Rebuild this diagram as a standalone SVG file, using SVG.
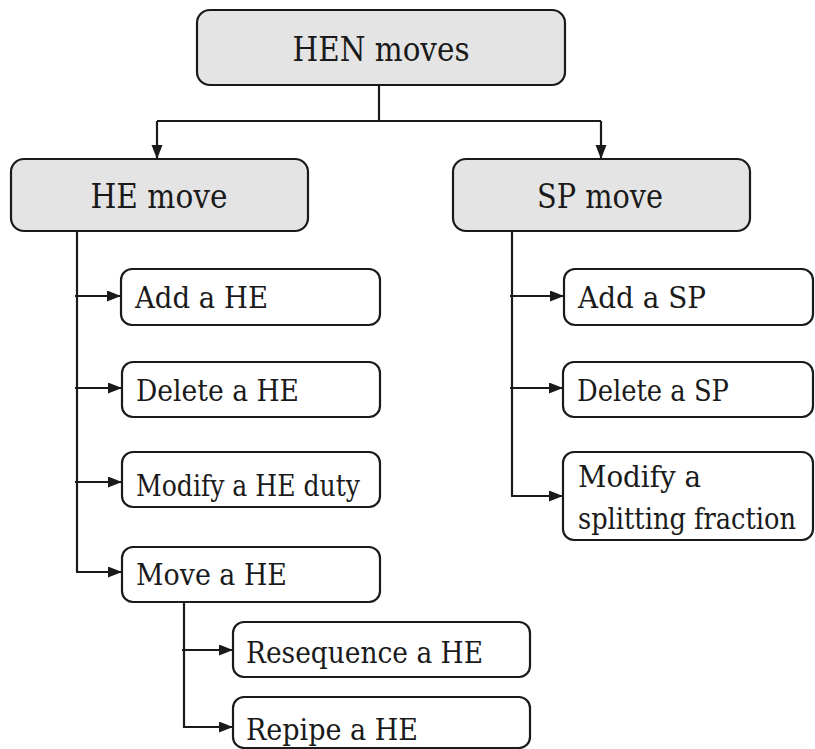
<svg xmlns="http://www.w3.org/2000/svg" width="815" height="749" viewBox="0 0 815 749">
  <style>
    .head { fill: #e4e4e4; stroke: #1a1a1a; stroke-width: 2.2; }
    .leaf { fill: #ffffff; stroke: #1a1a1a; stroke-width: 2.2; }
    text { font-family: 'DejaVu Serif', 'Liberation Serif', serif; fill: #1a1a1a; }
    .big { font-size: 33px; }
    .small { font-size: 30px; }
    .wire { fill: none; stroke: #1a1a1a; stroke-width: 2.2; marker-end: url(#tip); }
    .bare { fill: none; stroke: #1a1a1a; stroke-width: 2.2; }
  </style>
  <defs>
    <marker id="tip" markerUnits="userSpaceOnUse" markerWidth="14" markerHeight="12" refX="13" refY="5.5" orient="auto">
      <path d="M0,0 L14,5.5 L0,11 Z" fill="#1a1a1a"/>
    </marker>
  </defs>

  <rect width="815" height="749" fill="#ffffff"/>

  <!-- connectors -->
  <g id="connectors">
    <path class="bare" d="M379,85 V121 M157,121 H601"/>
    <path class="wire" d="M157,121 V158"/>
    <path class="wire" d="M601,121 V158"/>
    <!-- HE move branch -->
    <path class="bare" d="M77,231 V572"/>
    <path class="wire" d="M75,296 H120"/>
    <path class="wire" d="M75,388 H121"/>
    <path class="wire" d="M75,482 H121"/>
    <path class="wire" d="M76,572 H121"/>
    <!-- Move a HE branch -->
    <path class="bare" d="M184,602 V727"/>
    <path class="wire" d="M182,650 H232"/>
    <path class="wire" d="M183,727 H232"/>
    <!-- SP move branch -->
    <path class="bare" d="M512,231 V496"/>
    <path class="wire" d="M510,296 H563"/>
    <path class="wire" d="M510,388 H562"/>
    <path class="wire" d="M511,496 H562"/>
  </g>

  <g id="hen-moves">
    <rect class="head" x="197" y="10" width="368" height="75" rx="13"/>
    <text class="big" x="381" y="61" text-anchor="middle" textLength="177" lengthAdjust="spacingAndGlyphs">HEN moves</text>
  </g>

  <g id="he-move">
    <rect class="head" x="11" y="159" width="297" height="72" rx="13"/>
    <text class="big" x="159" y="208" text-anchor="middle" textLength="137" lengthAdjust="spacingAndGlyphs">HE move</text>
  </g>

  <g id="sp-move">
    <rect class="head" x="453" y="159" width="297" height="72" rx="13"/>
    <text class="big" x="600" y="208" text-anchor="middle" textLength="126" lengthAdjust="spacingAndGlyphs">SP move</text>
  </g>

  <g id="add-he">
    <rect class="leaf" x="121" y="269" width="259" height="56" rx="11"/>
    <text class="small" x="135" y="308" textLength="133" lengthAdjust="spacingAndGlyphs">Add a HE</text>
  </g>

  <g id="delete-he">
    <rect class="leaf" x="122" y="362" width="258" height="55" rx="11"/>
    <text class="small" x="136" y="401" textLength="163" lengthAdjust="spacingAndGlyphs">Delete a HE</text>
  </g>

  <g id="modify-he-duty">
    <rect class="leaf" x="122" y="452" width="258" height="55" rx="11"/>
    <text class="small" x="136" y="496" textLength="224" lengthAdjust="spacingAndGlyphs">Modify a HE duty</text>
  </g>

  <g id="move-he">
    <rect class="leaf" x="122" y="547" width="258" height="55" rx="11"/>
    <text class="small" x="136" y="585" textLength="151" lengthAdjust="spacingAndGlyphs">Move a HE</text>
  </g>

  <g id="resequence-he">
    <rect class="leaf" x="233" y="622" width="297" height="55" rx="11"/>
    <text class="small" x="246" y="663" textLength="237" lengthAdjust="spacingAndGlyphs">Resequence a HE</text>
  </g>

  <g id="repipe-he">
    <rect class="leaf" x="233" y="697" width="297" height="51" rx="11"/>
    <text class="small" x="246" y="740" textLength="172" lengthAdjust="spacingAndGlyphs">Repipe a HE</text>
  </g>

  <g id="add-sp">
    <rect class="leaf" x="564" y="269" width="249" height="56" rx="11"/>
    <text class="small" x="578" y="308" textLength="128" lengthAdjust="spacingAndGlyphs">Add a SP</text>
  </g>

  <g id="delete-sp">
    <rect class="leaf" x="563" y="362" width="250" height="55" rx="11"/>
    <text class="small" x="577" y="401" textLength="152" lengthAdjust="spacingAndGlyphs">Delete a SP</text>
  </g>

  <g id="modify-split">
    <rect class="leaf" x="563" y="452" width="250" height="88" rx="11"/>
    <text class="small" x="578" y="487" textLength="123" lengthAdjust="spacingAndGlyphs">Modify a</text>
    <text class="small" x="578" y="529" textLength="218" lengthAdjust="spacingAndGlyphs">splitting fraction</text>
  </g>
</svg>
